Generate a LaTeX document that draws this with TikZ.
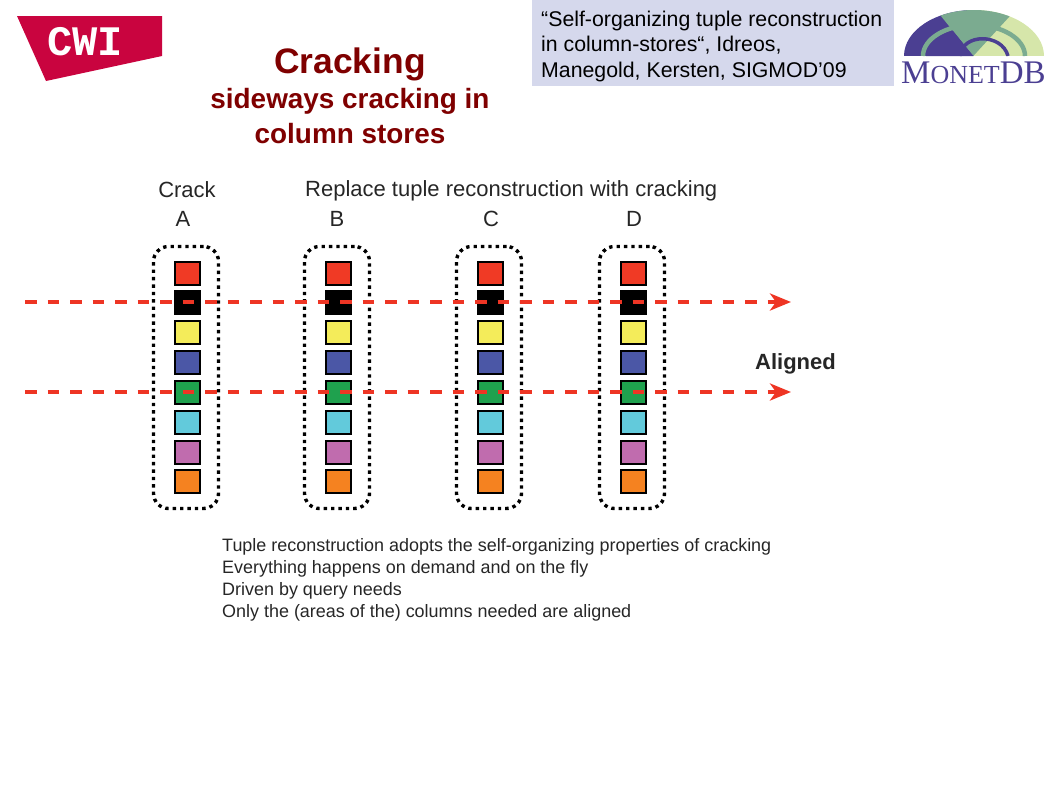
\documentclass[tikz,border=0pt]{standalone}
\usepackage{fontspec}
\setmainfont{Liberation Sans}
\newfontfamily\logoserif{Liberation Serif}
\newfontfamily\logomono{Liberation Mono}
\usetikzlibrary{arrows.meta}
\definecolor{cwired}{HTML}{C9043F}
\definecolor{titlered}{HTML}{7F0000}
\definecolor{citeblue}{HTML}{D5D8EC}
\definecolor{monetpurple}{HTML}{4B3F92}
\definecolor{monetteal}{HTML}{7BAB90}
\definecolor{monetlight}{HTML}{D6E6AA}
\definecolor{arrowred}{HTML}{EE3524}
\tikzset{
  px/.style={font=\fontsize{#1}{#1}\selectfont},
  label/.style={px=22,text=black!85,inner sep=0pt},
  cellbox/.style={draw=black,line width=2pt,minimum width=25pt,minimum height=23pt,inner sep=0pt},
  colbox/.style={draw=black,line width=3.4pt,dash pattern=on 3.4pt off 4pt,rounded corners=15pt,
    minimum width=65pt,minimum height=262pt,inner sep=0pt},
  aligned/.style={draw=arrowred,line width=4pt,dash pattern=on 11.5pt off 11pt,
    -{Stealth[length=21pt,width=17pt,inset=6pt]}},
}
\begin{document}
\begin{tikzpicture}[x=1pt,y=-1pt]
\useasboundingbox (0,0) rectangle (1058,793);

% logos
\fill[cwired] (17,16) -- (162,16) -- (162,56) -- (46,81) -- cycle;
\node[px=42,text=white,inner sep=0pt] (cwi) at (85,42) {\logomono\bfseries CWI};

\fill[citeblue] (532,0) rectangle (894,86);
\node[px=21.3,anchor=west,inner sep=0pt] (cite1) at (541,20.5) {“Self-organizing tuple reconstruction};
\node[px=21.3,anchor=west,inner sep=0pt] (cite2) at (541,45.5) {in column-stores“, Idreos,};
\node[px=21.3,anchor=west,inner sep=0pt] (cite3) at (541,71.5) {Manegold, Kersten, SIGMOD’09};

\begin{scope}
  \clip (904,56) arc[start angle=180,end angle=360,x radius=70,y radius=46] -- cycle;
  \fill[monetpurple] (900,5) rectangle (974,56);
  \fill[monetlight] (974,5) rectangle (1048,56);
  \fill[monetteal] (932,5) -- (973.3,56) -- (1020,5) -- cycle;
  % inner rings
  \draw[monetteal,line width=4.5pt] (923,56) arc[start angle=180,end angle=360,x radius=51,y radius=31];
  \begin{scope}
    \clip (900,5) -- (932,5) -- (973.3,56) -- (900,56) -- cycle;
    \fill[monetpurple] (974,56) ellipse[x radius=48,y radius=28];
  \end{scope}
  \draw[monetpurple,line width=3.5pt] (960,56) .. controls (962,33) and (1002,33) .. (1008,56);
\end{scope}
\node[anchor=base west,inner sep=0pt,text=monetpurple] (monet) at (901,83.5)
  {\logoserif\fontsize{33}{33}\selectfont M\fontsize{26}{26}\selectfont ONET\fontsize{33}{33}\selectfont DB};

% heading
\node[px=35.4,text=titlered,inner sep=0pt] (title) at (350,64) {\bfseries Cracking};
\node[px=27.9,text=titlered,inner sep=0pt] (sub1) at (350,101) {\bfseries sideways cracking in};
\node[px=27.9,text=titlered,inner sep=0pt] (sub2) at (350,134) {\bfseries column stores};

% column headers
\node[label] (crack) at (187,190) {Crack};
\node[label,anchor=west] (replace) at (305,191) {Replace tuple reconstruction with cracking};

% the four columns
\foreach \col/\xcol/\xhead in {A/187/183,B/338/337,C/490/491,D/633/634}{
  \node[label] (head\col) at (\xhead,219) {\col};
  \node[colbox] (box\col) at (\xcol-1,377.5) {};
  \foreach \cellcol/\ycell in {F03A25/273,000000/302,F4EC5A/332,4B57A6/362,1FA14E/392,62CADB/422,C06CAE/452,F58220/481}{
    \definecolor{cellfill}{HTML}{\cellcol}
    \node[cellbox,fill=cellfill] (cell\col\ycell) at (\xcol,\ycell) {};
  }
}

% cracks run across all columns
\coordinate (startone) at (25,302);
\coordinate (endone) at (791,302);
\coordinate (starttwo) at (25,392);
\coordinate (endtwo) at (791,392);
\draw[aligned] (startone) -- (endone);
\draw[aligned] (starttwo) -- (endtwo);
\node[px=22,text=black!85,inner sep=0pt] (alignedlab) at (795.5,363.5) {\bfseries Aligned};

% notes
\node[label,px=17.95,anchor=west] (note1) at (222,547) {Tuple reconstruction adopts the self-organizing properties of cracking};
\node[label,px=17.95,anchor=west] (note2) at (222,569) {Everything happens on demand and on the fly};
\node[label,px=17.95,anchor=west] (note3) at (222,591) {Driven by query needs};
\node[label,px=17.95,anchor=west] (note4) at (222,613) {Only the (areas of the) columns needed are aligned};
\end{tikzpicture}
\end{document}
